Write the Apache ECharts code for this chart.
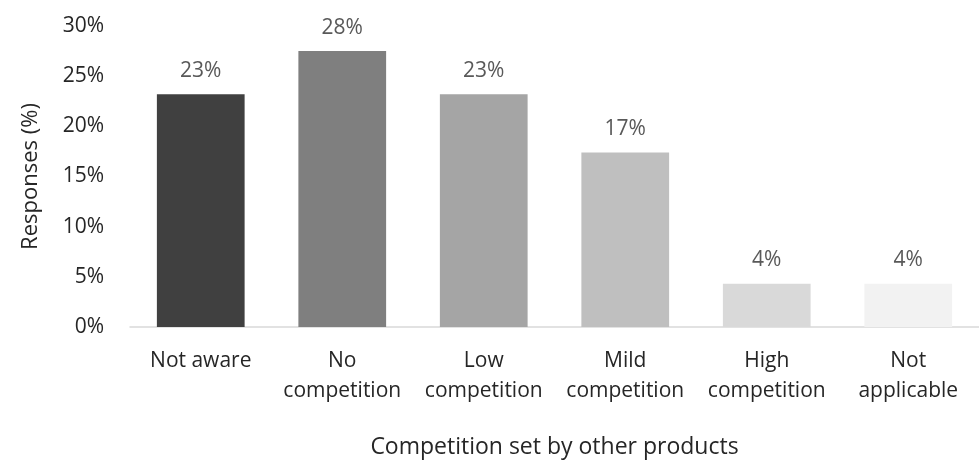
<!DOCTYPE html>
<html><head><meta charset="utf-8">
<script src="https://cdn.jsdelivr.net/npm/echarts@6/dist/echarts.min.js"></script>
<style>html,body{margin:0;padding:0;background:#fff}#c{width:979px;height:463px}</style>
</head><body><div id="c"></div>
<script>
const categories = ['Not aware', 'No\ncompetition', 'Low\ncompetition', 'Mild\ncompetition', 'High\ncompetition', 'Not\napplicable'];
const values = [23.2, 27.5, 23.2, 17.4, 4.3, 4.3];
const barColors = ['#404040', '#7f7f7f', '#a5a5a5', '#bfbfbf', '#d9d9d9', '#f2f2f2'];
const yTicks = [0, 5, 10, 15, 20, 25, 30];
const FONT = '"Open Sans", sans-serif';
const chart = echarts.init(document.getElementById('c'), null, {renderer: 'canvas'});
chart.setOption({
  animation: false,
  textStyle: {fontFamily: FONT},
  grid: {left: 130, right: 0, top: 26, bottom: 136, containLabel: false, outerBoundsMode: 'none'},
  xAxis: {
    type: 'category', data: categories,
    axisLine: {lineStyle: {color: '#d9d9d9', width: 1.5}},
    axisTick: {show: false},
    axisLabel: {color: '#262626', fontSize: 21, fontFamily: FONT, lineHeight: 30, margin: 19, interval: 0},
    name: 'Competition set by other products', nameLocation: 'middle', nameGap: 109,
    nameTextStyle: {color: '#262626', fontSize: 23, fontFamily: FONT}
  },
  yAxis: {
    type: 'value', min: 0, max: 30, interval: 5,
    axisLine: {show: false}, axisTick: {show: false}, splitLine: {show: false},
    axisLabel: {color: '#262626', fontSize: 21, fontFamily: FONT, margin: 26, formatter: v => yTicks.includes(v) ? v + '%' : ''},
    name: 'Responses (%)', nameLocation: 'middle', nameGap: 88, nameRotate: 90,
    nameTextStyle: {color: '#262626', fontSize: 22, fontFamily: FONT}
  },
  series: [{
    type: 'bar', barCategoryGap: '38%',
    data: values.map((v, i) => ({value: v, itemStyle: {color: barColors[i]}})),
    label: {show: true, position: 'top', distance: 13, color: '#595959', fontSize: 21, fontFamily: FONT,
      formatter: p => Math.round(p.value) + '%'}
  }]
});
</script></body></html>
